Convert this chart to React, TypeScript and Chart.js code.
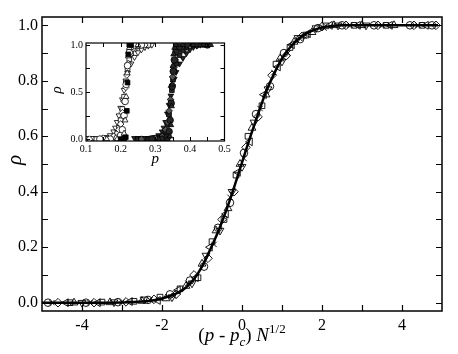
import React, { useEffect, useRef } from "react";
import { Chart, registerables } from "chart.js";
Chart.register(...registerables);

const FONT = "'Liberation Serif', 'Times New Roman', Times, serif";
Chart.defaults.font.family = FONT;

// ---------- main panel data: rho vs (p - pc) N^{1/2} ----------
const xTickValues = [-4, -2, 0, 2, 4];
const yTickValues = [0, 0.2, 0.4, 0.6, 0.8, 1.0];

const curveX = [-5, -4, -3, -2.5, -2.2, -2.0, -1.8, -1.6, -1.4, -1.2, -1.0, -0.8, -0.6, -0.4, -0.2, 0, 0.2, 0.4, 0.6, 0.8, 1.0, 1.2, 1.4, 1.6, 1.8, 2.0, 2.2, 2.5, 3.0, 4.9];
const curveY = [0, 0, 0.001, 0.004, 0.009, 0.015, 0.024, 0.036, 0.055, 0.085, 0.13, 0.19, 0.255, 0.33, 0.415, 0.505, 0.595, 0.68, 0.76, 0.825, 0.88, 0.92, 0.95, 0.97, 0.983, 0.992, 0.997, 1.0, 1.0, 1.0];

const circX = [-4.85, -3.9, -3.1, -2.35, -1.8, -1.3, -0.95, -0.6, -0.3, 0.05, 0.35, 0.7, 1.05, 1.45, 1.9, 2.5, 3.3, 4.2, 4.75];
const circY = [0, 0, 0.002, 0.01, 0.03, 0.08, 0.13, 0.27, 0.36, 0.54, 0.68, 0.78, 0.9, 0.95, 0.99, 1, 1, 1, 1];

const squareX = [-4.3, -3.5, -2.7, -2.05, -1.55, -1.1, -0.75, -0.45, -0.15, 0.15, 0.5, 0.85, 1.2, 1.6, 2.1, 2.8, 3.6, 4.5];
const squareY = [0, 0.002, 0.005, 0.02, 0.05, 0.09, 0.22, 0.3, 0.46, 0.6, 0.71, 0.86, 0.92, 0.965, 0.998, 1, 1, 1];

const diamondX = [-4.6, -3.7, -2.9, -2.2, -1.65, -1.2, -0.85, -0.5, -0.2, 0.1, 0.4, 0.75, 1.1, 1.5, 2.0, 2.6, 3.4, 4.3, 4.85];
const diamondY = [0, 0, 0.003, 0.012, 0.03, 0.1, 0.16, 0.3, 0.4, 0.56, 0.67, 0.82, 0.89, 0.96, 0.995, 1, 1, 1, 1];

const triUpX = [-4.2, -3.3, -2.5, -1.9, -1.4, -1.0, -0.65, -0.35, -0.05, 0.25, 0.6, 0.95, 1.3, 1.75, 2.3, 3.0, 3.8];
const triUpY = [0, 0.001, 0.006, 0.015, 0.06, 0.14, 0.26, 0.34, 0.5, 0.63, 0.75, 0.88, 0.94, 0.975, 1, 1, 1];

const triDownX = [-4.0, -3.2, -2.45, -1.75, -1.25, -0.9, -0.55, -0.25, 0.0, 0.3, 0.65, 1.0, 1.4, 1.85, 2.4, 3.1];
const triDownY = [0, 0.002, 0.012, 0.02, 0.07, 0.17, 0.26, 0.4, 0.49, 0.65, 0.77, 0.87, 0.955, 0.99, 1, 1];

const triLeftX = [-4.4, -3.6, -2.8, -2.1, -1.6, -1.15, -0.8, -0.4, -0.1, 0.2, 0.55, 0.9, 1.25, 1.65, 2.2, 2.9, 3.7, 4.6];
const triLeftY = [0, 0, 0.004, 0.008, 0.045, 0.09, 0.2, 0.32, 0.47, 0.58, 0.75, 0.85, 0.93, 0.97, 1, 1, 1, 1];

const crossX = [-4.75, -3.8, -3.0, -2.3, -1.7, -1.35, -0.7, -0.3, 0.05, 0.45, 0.8, 1.15, 1.55, 2.05, 2.7, 3.5, 4.4];
const crossY = [0, 0, 0.002, 0.01, 0.025, 0.07, 0.21, 0.38, 0.52, 0.7, 0.83, 0.9, 0.96, 0.99, 1, 1, 1];

// ---------- inset data: rho vs p ----------
const insetXTicks = [0.1, 0.2, 0.3, 0.4, 0.5];
const insetYTicks = [0, 0.5, 1.0];

const L1p = [0.10, 0.11, 0.12, 0.13, 0.14, 0.15, 0.16, 0.17, 0.18, 0.185, 0.19, 0.195, 0.20, 0.205, 0.21, 0.215, 0.22, 0.23, 0.24, 0.25, 0.26, 0.27, 0.28, 0.29];
const L1r = [0.01, 0.01, 0.01, 0.01, 0.01, 0.015, 0.02, 0.04, 0.08, 0.12, 0.18, 0.25, 0.33, 0.42, 0.52, 0.62, 0.70, 0.80, 0.87, 0.92, 0.95, 0.975, 0.99, 1.0];
const L2p = [0.10, 0.13, 0.16, 0.18, 0.19, 0.195, 0.20, 0.205, 0.21, 0.215, 0.22, 0.225, 0.23, 0.24, 0.25, 0.26, 0.28];
const L2r = [0, 0, 0.005, 0.02, 0.06, 0.12, 0.2, 0.32, 0.45, 0.6, 0.75, 0.85, 0.91, 0.96, 0.985, 1.0, 1.0];
const L3p = [0.14, 0.17, 0.19, 0.2, 0.205, 0.21, 0.213, 0.216, 0.22, 0.225, 0.23, 0.24, 0.26];
const L3r = [0, 0, 0.01, 0.04, 0.1, 0.25, 0.4, 0.58, 0.78, 0.92, 0.98, 1.0, 1.0];
const L4p = [0.16, 0.19, 0.205, 0.21, 0.213, 0.216, 0.219, 0.222, 0.225, 0.23, 0.25];
const L4r = [0, 0, 0.01, 0.06, 0.2, 0.45, 0.7, 0.88, 0.97, 1.0, 1.0];
const L5p = [0.2, 0.21, 0.215, 0.218, 0.22, 0.222, 0.225, 0.23];
const L5r = [0, 0, 0.02, 0.3, 0.6, 0.9, 1.0, 1.0];
const L6p = [0.11, 0.15, 0.18, 0.195, 0.2, 0.205, 0.21, 0.215, 0.218, 0.222, 0.228, 0.235, 0.245, 0.27];
const L6r = [0, 0.01, 0.03, 0.1, 0.16, 0.28, 0.4, 0.55, 0.68, 0.8, 0.9, 0.96, 0.99, 1.0];

const R1p = [0.24, 0.25, 0.26, 0.27, 0.28, 0.29, 0.30, 0.31, 0.32, 0.325, 0.33, 0.335, 0.34, 0.345, 0.35, 0.355, 0.36, 0.37, 0.38, 0.39, 0.40, 0.41, 0.42, 0.43];
const R1r = [0.01, 0.01, 0.01, 0.01, 0.01, 0.015, 0.02, 0.04, 0.08, 0.12, 0.18, 0.27, 0.36, 0.46, 0.56, 0.64, 0.71, 0.80, 0.86, 0.91, 0.95, 0.975, 0.99, 1.0];
const R2p = [0.25, 0.28, 0.31, 0.32, 0.33, 0.335, 0.34, 0.345, 0.348, 0.351, 0.355, 0.36, 0.37, 0.38, 0.39, 0.41, 0.44];
const R2r = [0, 0, 0.01, 0.03, 0.08, 0.15, 0.26, 0.4, 0.52, 0.63, 0.72, 0.8, 0.89, 0.94, 0.97, 1.0, 1.0];
const R3p = [0.29, 0.32, 0.335, 0.34, 0.343, 0.346, 0.349, 0.352, 0.355, 0.36, 0.37, 0.39, 0.42, 0.45];
const R3r = [0, 0, 0.02, 0.08, 0.2, 0.38, 0.56, 0.72, 0.84, 0.93, 0.98, 1.0, 1.0, 1.0];
const R4p = [0.31, 0.335, 0.342, 0.345, 0.347, 0.349, 0.351, 0.353, 0.356, 0.36, 0.38, 0.41, 0.43, 0.44, 0.45, 0.46];
const R4r = [0, 0, 0.03, 0.15, 0.35, 0.58, 0.78, 0.9, 0.97, 1.0, 1.0, 1.0, 1.0, 1.0, 1.0, 1.0];
const R5p = [0.26, 0.3, 0.32, 0.33, 0.336, 0.34, 0.344, 0.347, 0.35, 0.354, 0.358, 0.365, 0.375, 0.39, 0.42, 0.455];
const R5r = [0, 0.01, 0.03, 0.1, 0.18, 0.3, 0.42, 0.55, 0.66, 0.76, 0.84, 0.92, 0.97, 1.0, 1.0, 1.0];

const zip = (xs: number[], ys: number[]) => xs.map((x, i) => ({ x, y: ys[i] }));

function framePlugin(o: { xMinor: number[]; yMinor: number[]; len: number; frame: number; tick: number }) {
  return {
    id: "frameTicks",
    afterDraw(chart: any) {
      const { ctx, chartArea: a, scales } = chart;
      const x = scales.x, y = scales.y;
      ctx.save();
      ctx.strokeStyle = "#000";
      ctx.lineWidth = o.tick;
      ctx.beginPath();
      for (const v of o.xMinor) {
        const px = Math.round(x.getPixelForValue(v)) + 0.5;
        ctx.moveTo(px, a.bottom); ctx.lineTo(px, a.bottom - o.len);
        ctx.moveTo(px, a.top); ctx.lineTo(px, a.top + o.len);
      }
      for (const v of o.yMinor) {
        const py = Math.round(y.getPixelForValue(v)) + 0.5;
        ctx.moveTo(a.left, py); ctx.lineTo(a.left + o.len, py);
        ctx.moveTo(a.right, py); ctx.lineTo(a.right - o.len, py);
      }
      ctx.stroke();
      ctx.lineWidth = o.frame;
      ctx.strokeRect(a.left, a.top, a.right - a.left, a.bottom - a.top);
      ctx.restore();
    },
  };
}

type Seg = { t: string; italic?: boolean; size: number; dy?: number };
function drawSegs(ctx: CanvasRenderingContext2D, segs: Seg[], cx: number, cy: number) {
  let total = 0;
  for (const s of segs) {
    ctx.font = `${s.italic ? "italic " : ""}${s.size}px ${FONT}`;
    total += ctx.measureText(s.t).width;
  }
  let xx = cx - total / 2;
  ctx.textBaseline = "alphabetic";
  ctx.textAlign = "left";
  for (const s of segs) {
    ctx.font = `${s.italic ? "italic " : ""}${s.size}px ${FONT}`;
    ctx.fillText(s.t, xx, cy + (s.dy || 0));
    xx += ctx.measureText(s.t).width;
  }
}

const mainTitles = {
  id: "mainTitles",
  afterDraw(chart: any) {
    const ctx = chart.ctx as CanvasRenderingContext2D;
    ctx.save();
    ctx.fillStyle = "#000";
    drawSegs(ctx, [
      { t: "(", size: 19 },
      { t: "p", size: 19, italic: true },
      { t: " - ", size: 19 },
      { t: "p", size: 19, italic: true },
      { t: "c", size: 13, italic: true, dy: 5 },
      { t: ")", size: 19 },
      { t: " ", size: 19 },
      { t: "N", size: 19, italic: true },
      { t: "1/2", size: 13, dy: -8 },
    ], 242, 341);
    ctx.translate(15, 160);
    ctx.rotate(-Math.PI / 2);
    ctx.font = `italic 21px ${FONT}`;
    ctx.textAlign = "center";
    ctx.textBaseline = "middle";
    ctx.fillText("ρ", 0, 0);
    ctx.restore();
  },
};

const insetTitles = {
  id: "insetTitles",
  afterDraw(chart: any) {
    const ctx = chart.ctx as CanvasRenderingContext2D;
    const a = chart.chartArea;
    ctx.save();
    ctx.fillStyle = "#000";
    ctx.font = `italic 15px ${FONT}`;
    ctx.textAlign = "center";
    ctx.textBaseline = "middle";
    ctx.fillText("p", (a.left + a.right) / 2, a.bottom + 18);
    ctx.translate(9, (a.top + a.bottom) / 2 - 2);
    ctx.rotate(-Math.PI / 2);
    ctx.fillText("ρ", 0, 0);
    ctx.restore();
  },
};

const openPt = (label: string, data: any[], style: string, rot = 0, r = 4) => ({
  type: "scatter" as const,
  label,
  data,
  pointStyle: style,
  rotation: rot,
  pointRadius: r,
  pointBorderColor: "#000",
  pointBackgroundColor: "rgba(0,0,0,0)",
  pointBorderWidth: 0.9,
  showLine: false,
});

const insetPt = (label: string, data: any[], style: string, fill: string, rot = 0) => ({
  type: "scatter" as const,
  label,
  data,
  pointStyle: style,
  rotation: rot,
  pointRadius: 3.3,
  pointBorderColor: "#000",
  pointBackgroundColor: fill,
  pointBorderWidth: 0.8,
  showLine: false,
});

export default function App() {
  const mainRef = useRef<HTMLCanvasElement>(null);
  const insetRef = useRef<HTMLCanvasElement>(null);

  useEffect(() => {
    const tickFont = { family: FONT, size: 16 };
    const main = new Chart(mainRef.current!, {
      type: "scatter",
      data: {
        datasets: [
          {
            type: "line",
            label: "fit",
            data: zip(curveX, curveY),
            borderColor: "#000",
            borderWidth: 2.5,
            pointRadius: 0,
            cubicInterpolationMode: "monotone",
            fill: false,
          } as any,
          openPt("circle", zip(circX, circY), "circle", 0, 3.8),
          openPt("square", zip(squareX, squareY), "rect", 0, 4),
          openPt("diamond", zip(diamondX, diamondY), "rectRot", 0, 4.3),
          openPt("up", zip(triUpX, triUpY), "triangle", 0, 4.5),
          openPt("down", zip(triDownX, triDownY), "triangle", 180, 4.5),
          openPt("left", zip(triLeftX, triLeftY), "triangle", -90, 4.5),
          openPt("cross", zip(crossX, crossY), "crossRot", 0, 3.8),
        ],
      },
      options: {
        responsive: false,
        animation: false,
        devicePixelRatio: 1,
        layout: { padding: { top: 17, right: 16, left: 0, bottom: 0 } },
        plugins: { legend: { display: false }, tooltip: { enabled: false } },
        scales: {
          x: {
            type: "linear",
            min: -5,
            max: 5,
            grid: { display: false, drawTicks: false },
            border: { display: false },
            afterBuildTicks: (s: any) => { s.ticks = xTickValues.map((v) => ({ value: v })); },
            afterFit: (s: any) => { s.height = 43; },
            ticks: { font: tickFont, color: "#000", padding: 5, callback: (v: any) => String(v) },
          },
          y: {
            type: "linear",
            min: -0.03,
            max: 1.03,
            grid: { display: false, drawTicks: false },
            border: { display: false },
            afterBuildTicks: (s: any) => { s.ticks = yTickValues.map((v) => ({ value: v })); },
            afterFit: (s: any) => { s.width = 42; },
            ticks: { font: tickFont, color: "#000", padding: 4, callback: (v: any) => Number(v).toFixed(1) },
          },
        },
      } as any,
      plugins: [
        framePlugin({ xMinor: [-4, -3, -2, -1, 0, 1, 2, 3, 4], yMinor: [0, 0.1, 0.2, 0.3, 0.4, 0.5, 0.6, 0.7, 0.8, 0.9, 1.0], len: 6, frame: 1.5, tick: 1.2 }),
        mainTitles,
      ],
    });

    const iFont = { family: FONT, size: 10 };
    const white = "#ffffff";
    const dark = "#262626";
    const inset = new Chart(insetRef.current!, {
      type: "scatter",
      data: {
        datasets: [
          insetPt("L5", zip(L5p, L5r), "rect", "#000"),
          insetPt("L4", zip(L4p, L4r), "triangle", white),
          insetPt("L3", zip(L3p, L3r), "circle", white),
          insetPt("L6", zip(L6p, L6r), "rectRot", white),
          insetPt("L2", zip(L2p, L2r), "rect", white),
          insetPt("L1", zip(L1p, L1r), "triangle", white, 180),
          insetPt("R4", zip(R4p, R4r), "triangle", dark),
          insetPt("R3", zip(R3p, R3r), "circle", dark),
          insetPt("R5", zip(R5p, R5r), "rectRot", "#555"),
          insetPt("R2", zip(R2p, R2r), "rect", dark),
          insetPt("R1", zip(R1p, R1r), "triangle", dark, 180),
        ],
      },
      options: {
        responsive: false,
        animation: false,
        devicePixelRatio: 1,
        layout: { padding: { top: 7.5, right: 13.5, left: 0, bottom: 0 } },
        plugins: { legend: { display: false }, tooltip: { enabled: false } },
        scales: {
          x: {
            type: "linear",
            min: 0.1,
            max: 0.5,
            grid: { display: false, drawTicks: false },
            border: { display: false },
            afterBuildTicks: (s: any) => { s.ticks = insetXTicks.map((v) => ({ value: v })); },
            afterFit: (s: any) => { s.height = 25; },
            ticks: { font: iFont, color: "#000", padding: 2, callback: (v: any) => Number(v).toFixed(1) },
          },
          y: {
            type: "linear",
            min: -0.02,
            max: 1.02,
            grid: { display: false, drawTicks: false },
            border: { display: false },
            afterBuildTicks: (s: any) => { s.ticks = insetYTicks.map((v) => ({ value: v })); },
            afterFit: (s: any) => { s.width = 38; },
            ticks: { font: iFont, color: "#000", padding: 3, callback: (v: any) => Number(v).toFixed(1) },
          },
        },
      } as any,
      plugins: [
        framePlugin({ xMinor: [0.15, 0.2, 0.25, 0.3, 0.35, 0.4, 0.45], yMinor: [0, 0.25, 0.5, 0.75, 1.0], len: 4, frame: 1.2, tick: 1 }),
        insetTitles,
      ],
    });

    return () => {
      main.destroy();
      inset.destroy();
    };
  }, []);

  return (
    <div style={{ position: "fixed", left: 0, top: 0, width: 458, height: 354, background: "#fff" }}>
      <canvas ref={mainRef} width={458} height={354} style={{ position: "absolute", left: 0, top: 0, width: 458, height: 354 }} />
      <canvas ref={insetRef} width={190} height={132} style={{ position: "absolute", left: 48, top: 34, width: 190, height: 132 }} />
    </div>
  );
}
